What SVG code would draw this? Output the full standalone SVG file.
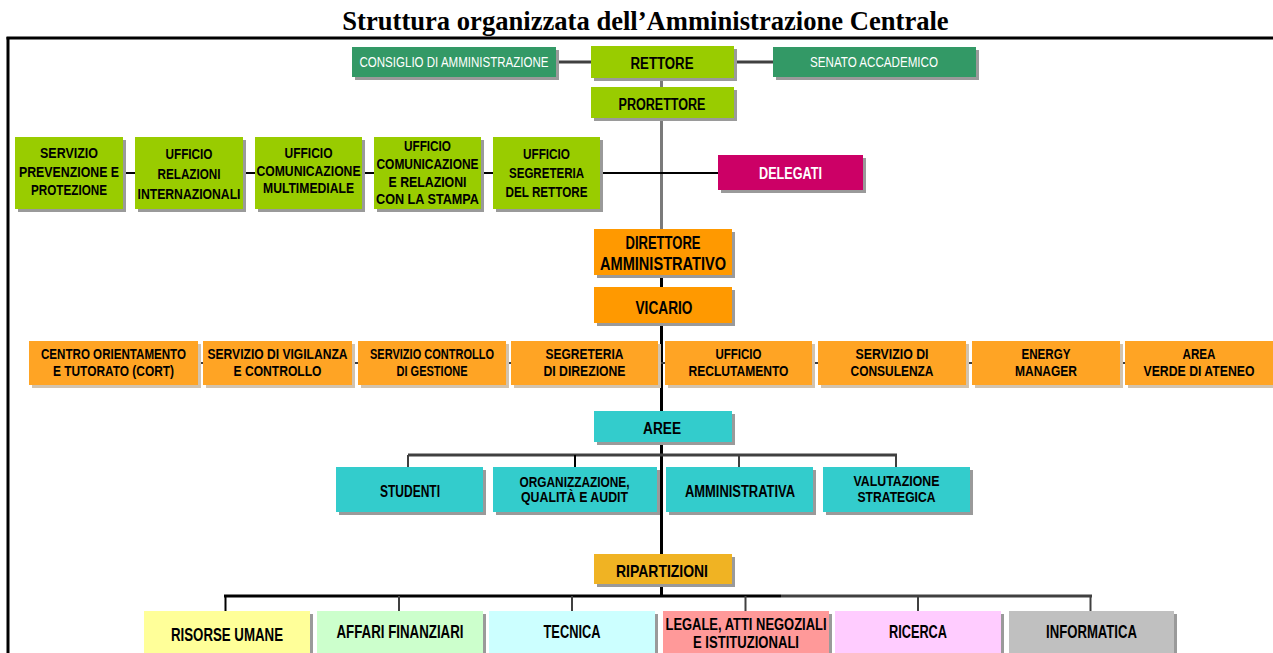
<svg xmlns="http://www.w3.org/2000/svg" width="1273" height="653" viewBox="0 0 1273 653">
<defs>
<style>
.t{font-family:"Liberation Sans",Arial,sans-serif;font-weight:bold;text-anchor:middle;fill:#000;}
.w{fill:#fff;font-weight:normal;}
.s{fill:#9a9a9a;}
.so{fill:#d2c3ae;}
.g{fill:#99CC00;}
.dg{fill:#339966;}
.or{fill:#FF9900;}
.ol{fill:#FFA424;}
.tl{fill:#33CCCC;}
.ln{fill:none;stroke-linecap:butt;}
</style>
</defs>
<rect width="1273" height="653" fill="#fff"/>
<text x="645.5" y="30" font-family="'Liberation Serif','Times New Roman',serif" font-weight="bold" font-size="26.6" text-anchor="middle">Struttura organizzata dell’Amministrazione Centrale</text>
<g id="frame" fill="none" stroke="#000" stroke-width="3">
<line x1="6.5" y1="38" x2="1273" y2="38"/>
<line x1="8" y1="37" x2="8" y2="653"/>
</g>
<g id="connectors" class="ln">
<line x1="556" y1="62" x2="591" y2="62" stroke="#404040" stroke-width="3"/>
<line x1="734" y1="62" x2="773" y2="62" stroke="#404040" stroke-width="3"/>
<line x1="661.5" y1="78" x2="661.5" y2="230" stroke="#7a7a7a" stroke-width="3"/>
<line x1="661.5" y1="230" x2="661.5" y2="597" stroke="#000" stroke-width="3"/>
<line x1="123" y1="173" x2="718" y2="173" stroke="#000" stroke-width="2"/>
<line x1="198" y1="363" x2="1125" y2="363" stroke="#404040" stroke-width="2"/>
<line x1="408" y1="455" x2="897" y2="455" stroke="#404040" stroke-width="3"/>
<line x1="408" y1="455" x2="408" y2="468" stroke="#404040" stroke-width="2"/>
<line x1="575" y1="455" x2="575" y2="468" stroke="#000" stroke-width="2"/>
<line x1="739" y1="455" x2="739" y2="468" stroke="#404040" stroke-width="2"/>
<line x1="896" y1="454" x2="896" y2="468" stroke="#404040" stroke-width="2"/>
<line x1="224" y1="596" x2="781" y2="596" stroke="#000" stroke-width="3"/>
<line x1="781" y1="596" x2="1092" y2="596" stroke="#404040" stroke-width="3"/>
<line x1="225.5" y1="596" x2="225.5" y2="612" stroke="#000" stroke-width="2"/>
<line x1="399" y1="596" x2="399" y2="612" stroke="#404040" stroke-width="2"/>
<line x1="572" y1="596" x2="572" y2="612" stroke="#404040" stroke-width="2"/>
<line x1="745.5" y1="596" x2="745.5" y2="612" stroke="#404040" stroke-width="2"/>
<line x1="918" y1="596" x2="918" y2="612" stroke="#404040" stroke-width="2"/>
<line x1="1090.5" y1="596" x2="1090.5" y2="612" stroke="#404040" stroke-width="2"/>
</g>
<g id="consiglio"><rect class="s" x="355" y="50" width="204" height="30"/><rect class="dg" x="352" y="47" width="204" height="30"/><text class="t w" x="454" y="67" font-size="14" textLength="189" lengthAdjust="spacingAndGlyphs">CONSIGLIO DI AMMINISTRAZIONE</text></g>
<g id="rettore"><rect class="s" x="594" y="49" width="143" height="32"/><rect class="g" x="591" y="46" width="143" height="32"/><text class="t" x="662" y="69" font-size="16" textLength="63" lengthAdjust="spacingAndGlyphs">RETTORE</text></g>
<g id="senato"><rect class="s" x="776" y="50" width="203" height="30"/><rect class="dg" x="773" y="47" width="203" height="30"/><text class="t w" x="874" y="67" font-size="14" textLength="128" lengthAdjust="spacingAndGlyphs">SENATO ACCADEMICO</text></g>
<g id="prorettore"><rect class="s" x="594" y="90" width="143" height="31"/><rect class="g" x="591" y="87" width="143" height="31"/><text class="t" x="662" y="110" font-size="16" textLength="87" lengthAdjust="spacingAndGlyphs">PRORETTORE</text></g>
<g id="servizio-prevenzione"><rect class="s" x="18" y="140" width="108" height="72"/><rect class="g" x="15" y="137" width="108" height="72"/>
<text class="t" x="69" y="158" font-size="15" textLength="58" lengthAdjust="spacingAndGlyphs">SERVIZIO</text>
<text class="t" x="69" y="176.5" font-size="15" textLength="100" lengthAdjust="spacingAndGlyphs">PREVENZIONE E</text>
<text class="t" x="69" y="195" font-size="15" textLength="76" lengthAdjust="spacingAndGlyphs">PROTEZIONE</text></g>
<g id="ufficio-relazioni-int"><rect class="s" x="138" y="140" width="108" height="72"/><rect class="g" x="135" y="137" width="108" height="72"/>
<text class="t" x="189" y="159" font-size="15" textLength="47" lengthAdjust="spacingAndGlyphs">UFFICIO</text>
<text class="t" x="189" y="178.5" font-size="15" textLength="63" lengthAdjust="spacingAndGlyphs">RELAZIONI</text>
<text class="t" x="189" y="199" font-size="15" textLength="103" lengthAdjust="spacingAndGlyphs">INTERNAZIONALI</text></g>
<g id="ufficio-com-multimediale"><rect class="s" x="258" y="140" width="107" height="72"/><rect class="g" x="255" y="137" width="107" height="72"/>
<text class="t" x="308.5" y="157.5" font-size="15" textLength="48" lengthAdjust="spacingAndGlyphs">UFFICIO</text>
<text class="t" x="308.5" y="176" font-size="15" textLength="104" lengthAdjust="spacingAndGlyphs">COMUNICAZIONE</text>
<text class="t" x="308.5" y="192.5" font-size="15" textLength="91" lengthAdjust="spacingAndGlyphs">MULTIMEDIALE</text></g>
<g id="ufficio-com-stampa"><rect class="s" x="377" y="140" width="107" height="72"/><rect class="g" x="374" y="137" width="107" height="72"/>
<text class="t" x="427.5" y="150.5" font-size="15" textLength="47" lengthAdjust="spacingAndGlyphs">UFFICIO</text>
<text class="t" x="427.5" y="169" font-size="15" textLength="102" lengthAdjust="spacingAndGlyphs">COMUNICAZIONE</text>
<text class="t" x="427.5" y="186.5" font-size="15" textLength="78" lengthAdjust="spacingAndGlyphs">E RELAZIONI</text>
<text class="t" x="427.5" y="204" font-size="15" textLength="103" lengthAdjust="spacingAndGlyphs">CON LA STAMPA</text></g>
<g id="ufficio-segreteria-rettore"><rect class="s" x="496" y="140" width="107" height="72"/><rect class="g" x="493" y="137" width="107" height="72"/>
<text class="t" x="546.5" y="158.5" font-size="15" textLength="47" lengthAdjust="spacingAndGlyphs">UFFICIO</text>
<text class="t" x="546.5" y="178" font-size="15" textLength="75" lengthAdjust="spacingAndGlyphs">SEGRETERIA</text>
<text class="t" x="546.5" y="197" font-size="15" textLength="82" lengthAdjust="spacingAndGlyphs">DEL RETTORE</text></g>
<g id="delegati"><rect class="s" x="721" y="158" width="145" height="35"/><rect x="718" y="155" width="145" height="35" fill="#CC0066"/><text class="t" x="790.5" y="178.5" font-size="16" style="fill:#fff" textLength="63" lengthAdjust="spacingAndGlyphs">DELEGATI</text></g>
<g id="direttore"><rect class="s" x="597" y="232" width="138" height="46"/><rect class="or" x="594" y="229" width="138" height="46"/>
<text class="t" x="663" y="248.5" font-size="18" textLength="75" lengthAdjust="spacingAndGlyphs">DIRETTORE</text>
<text class="t" x="663" y="269.5" font-size="18" textLength="126" lengthAdjust="spacingAndGlyphs">AMMINISTRATIVO</text></g>
<g id="vicario"><rect class="s" x="597" y="290" width="138" height="36"/><rect class="or" x="594" y="287" width="138" height="36"/><text class="t" x="664" y="313.5" font-size="19" textLength="57" lengthAdjust="spacingAndGlyphs">VICARIO</text></g>
<g id="cort"><rect class="so" x="32" y="344" width="169" height="44"/><rect class="ol" x="29" y="341" width="169" height="44"/>
<text class="t" x="113.5" y="358.5" font-size="14" textLength="145" lengthAdjust="spacingAndGlyphs">CENTRO ORIENTAMENTO</text>
<text class="t" x="113.5" y="375.5" font-size="14" textLength="121" lengthAdjust="spacingAndGlyphs">E TUTORATO (CORT)</text></g>
<g id="vigilanza"><rect class="so" x="206" y="344" width="149" height="44"/><rect class="ol" x="203" y="341" width="149" height="44"/>
<text class="t" x="277.5" y="358.5" font-size="14" textLength="140" lengthAdjust="spacingAndGlyphs">SERVIZIO DI VIGILANZA</text>
<text class="t" x="277.5" y="375.5" font-size="14" textLength="88" lengthAdjust="spacingAndGlyphs">E CONTROLLO</text></g>
<g id="controllo-gestione"><rect class="so" x="361" y="344" width="148" height="44"/><rect class="ol" x="358" y="341" width="148" height="44"/>
<text class="t" x="432" y="358.5" font-size="14" textLength="124" lengthAdjust="spacingAndGlyphs">SERVIZIO CONTROLLO</text>
<text class="t" x="432" y="375.5" font-size="14" textLength="71" lengthAdjust="spacingAndGlyphs">DI GESTIONE</text></g>
<g id="segreteria-direzione"><rect class="so" x="514" y="344" width="147" height="44"/><rect class="ol" x="511" y="341" width="147" height="44"/>
<text class="t" x="584.5" y="358.5" font-size="14" textLength="78" lengthAdjust="spacingAndGlyphs">SEGRETERIA</text>
<text class="t" x="584.5" y="375.5" font-size="14" textLength="82" lengthAdjust="spacingAndGlyphs">DI DIREZIONE</text></g>
<g id="reclutamento"><rect class="so" x="668" y="344" width="147" height="44"/><rect class="ol" x="665" y="341" width="147" height="44"/>
<text class="t" x="738.5" y="358.5" font-size="14" textLength="46" lengthAdjust="spacingAndGlyphs">UFFICIO</text>
<text class="t" x="738.5" y="375.5" font-size="14" textLength="100" lengthAdjust="spacingAndGlyphs">RECLUTAMENTO</text></g>
<g id="consulenza"><rect class="so" x="821" y="344" width="148" height="44"/><rect class="ol" x="818" y="341" width="148" height="44"/>
<text class="t" x="892" y="358.5" font-size="14" textLength="73" lengthAdjust="spacingAndGlyphs">SERVIZIO DI</text>
<text class="t" x="892" y="375.5" font-size="14" textLength="83" lengthAdjust="spacingAndGlyphs">CONSULENZA</text></g>
<g id="energy-manager"><rect class="so" x="975" y="344" width="148" height="44"/><rect class="ol" x="972" y="341" width="148" height="44"/>
<text class="t" x="1046" y="358.5" font-size="14" textLength="49" lengthAdjust="spacingAndGlyphs">ENERGY</text>
<text class="t" x="1046" y="375.5" font-size="14" textLength="62" lengthAdjust="spacingAndGlyphs">MANAGER</text></g>
<g id="area-verde"><rect class="so" x="1128" y="344" width="148" height="44"/><rect class="ol" x="1125" y="341" width="148" height="44"/>
<text class="t" x="1199" y="358.5" font-size="14" textLength="33" lengthAdjust="spacingAndGlyphs">AREA</text>
<text class="t" x="1199" y="375.5" font-size="14" textLength="111" lengthAdjust="spacingAndGlyphs">VERDE DI ATENEO</text></g>
<g id="aree"><rect class="s" x="597" y="414" width="138" height="31"/><rect class="tl" x="594" y="411" width="138" height="31"/><text class="t" x="662" y="433.5" font-size="16" textLength="38" lengthAdjust="spacingAndGlyphs">AREE</text></g>
<g id="studenti"><rect class="s" x="339" y="470" width="147" height="45"/><rect class="tl" x="336" y="467" width="147" height="45"/><text class="t" x="410" y="497" font-size="16" textLength="60" lengthAdjust="spacingAndGlyphs">STUDENTI</text></g>
<g id="organizzazione"><rect class="s" x="496" y="470" width="164" height="45"/><rect class="tl" x="493" y="467" width="164" height="45"/>
<text class="t" x="574.5" y="486.5" font-size="15" textLength="110" lengthAdjust="spacingAndGlyphs">ORGANIZZAZIONE,</text>
<text class="t" x="574.5" y="502" font-size="15" textLength="107" lengthAdjust="spacingAndGlyphs">QUALITÀ E AUDIT</text></g>
<g id="amministrativa"><rect class="s" x="669" y="470" width="147" height="45"/><rect class="tl" x="666" y="467" width="147" height="45"/><text class="t" x="740" y="496.5" font-size="16" textLength="110" lengthAdjust="spacingAndGlyphs">AMMINISTRATIVA</text></g>
<g id="valutazione"><rect class="s" x="826" y="470" width="147" height="45"/><rect class="tl" x="823" y="467" width="147" height="45"/>
<text class="t" x="896.5" y="485.5" font-size="15" textLength="86" lengthAdjust="spacingAndGlyphs">VALUTAZIONE</text>
<text class="t" x="896.5" y="502" font-size="15" textLength="78" lengthAdjust="spacingAndGlyphs">STRATEGICA</text></g>
<g id="ripartizioni"><rect class="s" x="597" y="557" width="138" height="30"/><rect x="594" y="554" width="138" height="30" fill="#F0B323"/><text class="t" x="662" y="576.5" font-size="17" textLength="92" lengthAdjust="spacingAndGlyphs">RIPARTIZIONI</text></g>
<g id="risorse-umane"><rect class="s" x="147" y="614" width="166" height="42"/><rect x="144" y="611" width="166" height="42" fill="#FFFF99"/><text class="t" x="227" y="641" font-size="19" textLength="112" lengthAdjust="spacingAndGlyphs">RISORSE UMANE</text></g>
<g id="affari-finanziari"><rect class="s" x="320" y="614" width="166" height="42"/><rect x="317" y="611" width="166" height="42" fill="#CCFFCC"/><text class="t" x="400" y="637.5" font-size="19" textLength="127" lengthAdjust="spacingAndGlyphs">AFFARI FINANZIARI</text></g>
<g id="tecnica"><rect class="s" x="492" y="614" width="166" height="42"/><rect x="489" y="611" width="166" height="42" fill="#CCFFFF"/><text class="t" x="572" y="637.5" font-size="19" textLength="57" lengthAdjust="spacingAndGlyphs">TECNICA</text></g>
<g id="legale"><rect class="s" x="666" y="614" width="166" height="42"/><rect x="663" y="611" width="166" height="42" fill="#FF9999"/>
<text class="t" x="746" y="629.5" font-size="16" textLength="161" lengthAdjust="spacingAndGlyphs">LEGALE, ATTI NEGOZIALI</text>
<text class="t" x="746" y="647.5" font-size="16" textLength="106" lengthAdjust="spacingAndGlyphs">E ISTITUZIONALI</text></g>
<g id="ricerca"><rect class="s" x="838" y="614" width="166" height="42"/><rect x="835" y="611" width="166" height="42" fill="#FFCCFF"/><text class="t" x="918" y="637.5" font-size="19" textLength="58" lengthAdjust="spacingAndGlyphs">RICERCA</text></g>
<g id="informatica"><rect class="s" x="1012" y="614" width="165" height="42"/><rect x="1009" y="611" width="165" height="42" fill="#C0C0C0"/><text class="t" x="1091.5" y="637.5" font-size="19" textLength="91" lengthAdjust="spacingAndGlyphs">INFORMATICA</text></g>
</svg>
